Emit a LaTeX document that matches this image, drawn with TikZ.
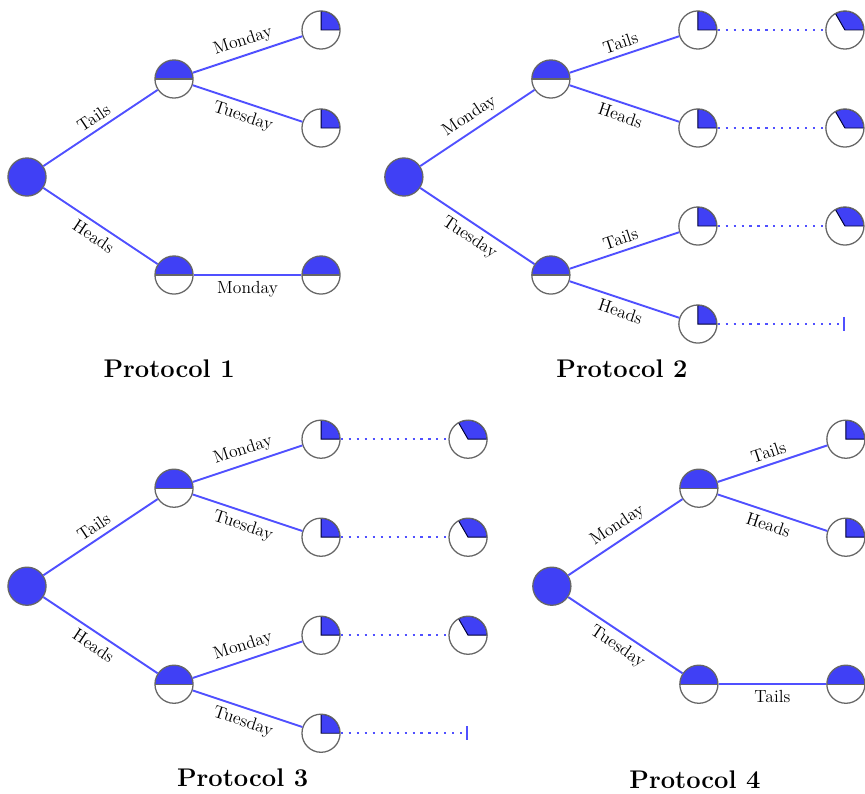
\documentclass[tikz,border=0pt]{standalone}
\usetikzlibrary{arrows.meta}

\definecolor{pieblue}{RGB}{64,64,245}
\definecolor{edgeblue}{RGB}{80,80,255}

\tikzset{
  pie/.style={circle, draw=black!60, line width=0.8pt, minimum size=0.84cm, inner sep=0pt},
  full/.style={pie, fill=pieblue},
  half/.style={pie, path picture={
      \fill[pieblue] (path picture bounding box.west) rectangle (path picture bounding box.north east);
      \draw[black!60, line width=0.8pt] (path picture bounding box.west) -- (path picture bounding box.east);}},
  wedge/.style={pie, path picture={
      \filldraw[fill=pieblue, draw=black!80!blue, line width=0.6pt]
        (path picture bounding box.center) -- ++(0:0.42cm)
        arc[start angle=0, end angle=#1, radius=0.42cm] -- cycle;}},
  quarter/.style={wedge=90},
  third/.style={wedge=120},
  branch/.style={draw=edgeblue, line width=1.2pt},
  wait/.style={draw=edgeblue, line width=1.3pt, dash pattern=on 1.3pt off 3.7pt},
  title/.style={font=\fontsize{16}{19}\selectfont\bfseries}
}

\begin{document}
\begin{tikzpicture}[x=1.08cm,y=1.08cm,every node/.style={font=\fontsize{11}{13}\selectfont}]
  \useasboundingbox (-0.551,-12.571) rectangle (17.10,3.612);

  % Protocol 1
  \node[full] (r1) at (0,0) {};
  \node[half] (t1) at (3,2) {};
  \node[half] (h1) at (3,-2) {};
  \node[quarter] (tm1) at (6,3) {};
  \node[quarter] (tt1) at (6,1) {};
  \node[half] (hm1) at (6,-2) {};
  \draw[branch] (r1) -- node[above,sloped] {Tails} (t1);
  \draw[branch] (r1) -- node[below,sloped] {Heads} (h1);
  \draw[branch] (t1) -- node[above,sloped] {Monday} (tm1);
  \draw[branch] (t1) -- node[below,sloped] {Tuesday} (tt1);
  \draw[branch] (h1) -- node[below] {Monday} (hm1);
  \node[title] (n1) at (2.9,-3.92) {Protocol 1};

  % Protocol 2
  \begin{scope}[shift={(7.69,0)}]
    \node[full] (r2) at (0,0) {};
    \node[half] (m2) at (3,2) {};
    \node[half] (u2) at (3,-2) {};
    \node[quarter] (mt2) at (6,3) {};
    \node[quarter] (mh2) at (6,1) {};
    \node[quarter] (ut2) at (6,-1) {};
    \node[quarter] (uh2) at (6,-3) {};
    \node[third] (mtx2) at (9,3) {};
    \node[third] (mhx2) at (9,1) {};
    \node[third] (utx2) at (9,-1) {};
    \coordinate (uhx2) at (9,-3);
    \draw[branch] (r2) -- node[above,sloped] {Monday} (m2);
    \draw[branch] (r2) -- node[below,sloped] {Tuesday} (u2);
    \draw[branch] (m2) -- node[above,sloped] {Tails} (mt2);
    \draw[branch] (m2) -- node[below,sloped] {Heads} (mh2);
    \draw[branch] (u2) -- node[above,sloped] {Tails} (ut2);
    \draw[branch] (u2) -- node[below,sloped] {Heads} (uh2);
    \draw[wait] (mt2) -- (mtx2);
    \draw[wait] (mh2) -- (mhx2);
    \draw[wait] (ut2) -- (utx2);
    \draw[wait,-{Bar[width=9pt]}] (uh2) -- (uhx2);
    \node[title] (n2) at (4.45,-3.92) {Protocol 2};
  \end{scope}

  % Protocol 3
  \begin{scope}[shift={(0,-8.35)}]
    \node[full] (r3) at (0,0) {};
    \node[half] (t3) at (3,2) {};
    \node[half] (h3) at (3,-2) {};
    \node[quarter] (tm3) at (6,3) {};
    \node[quarter] (tt3) at (6,1) {};
    \node[quarter] (hm3) at (6,-1) {};
    \node[quarter] (ht3) at (6,-3) {};
    \node[third] (tmx3) at (9,3) {};
    \node[third] (ttx3) at (9,1) {};
    \node[third] (hmx3) at (9,-1) {};
    \coordinate (htx3) at (9,-3);
    \draw[branch] (r3) -- node[above,sloped] {Tails} (t3);
    \draw[branch] (r3) -- node[below,sloped] {Heads} (h3);
    \draw[branch] (t3) -- node[above,sloped] {Monday} (tm3);
    \draw[branch] (t3) -- node[below,sloped] {Tuesday} (tt3);
    \draw[branch] (h3) -- node[above,sloped] {Monday} (hm3);
    \draw[branch] (h3) -- node[below,sloped] {Tuesday} (ht3);
    \draw[wait] (tm3) -- (tmx3);
    \draw[wait] (tt3) -- (ttx3);
    \draw[wait] (hm3) -- (hmx3);
    \draw[wait,-{Bar[width=9pt]}] (ht3) -- (htx3);
    \node[title] (n3) at (4.4,-3.9) {Protocol 3};
  \end{scope}

  % Protocol 4
  \begin{scope}[shift={(10.71,-8.35)}]
    \node[full] (r4) at (0,0) {};
    \node[half] (m4) at (3,2) {};
    \node[half] (u4) at (3,-2) {};
    \node[quarter] (mt4) at (6,3) {};
    \node[quarter] (mh4) at (6,1) {};
    \node[half] (ut4) at (6,-2) {};
    \draw[branch] (r4) -- node[above,sloped] {Monday} (m4);
    \draw[branch] (r4) -- node[below,sloped] {Tuesday} (u4);
    \draw[branch] (m4) -- node[above,sloped] {Tails} (mt4);
    \draw[branch] (m4) -- node[below,sloped] {Heads} (mh4);
    \draw[branch] (u4) -- node[below] {Tails} (ut4);
    \node[title] (n4) at (2.92,-3.94) {Protocol 4};
  \end{scope}
\end{tikzpicture}
\end{document}
